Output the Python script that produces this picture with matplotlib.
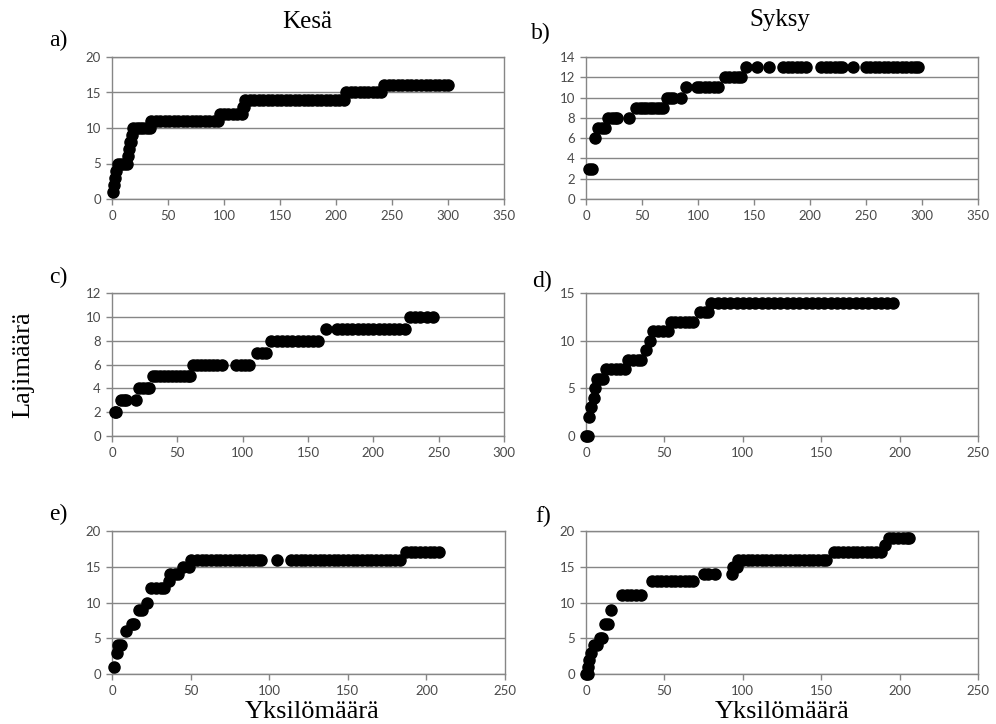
import numpy as np
import matplotlib.pyplot as plt

# species accumulation: (number of individuals, number of species)
# a) Kesa, upper row
pts_a = [(1, 1), (2, 2), (3, 3), (4, 4), (5, 5), (8, 5), (11, 5), (13, 5),
         (14, 6), (15, 7), (16, 8), (17, 8), (18, 9),
         (19, 10), (22, 10), (25, 10), (28, 10), (31, 10), (34, 10),
         (35, 11), (39, 11), (43, 11), (47, 11), (51, 11), (55, 11), (59, 11), (63, 11),
         (67, 11), (71, 11), (75, 11), (79, 11), (83, 11), (87, 11), (91, 11), (95, 11),
         (96, 12), (100, 12), (104, 12), (108, 12), (112, 12), (116, 12),
         (117, 13), (118, 13),
         (119, 14), (123, 14), (127, 14), (131, 14), (135, 14), (139, 14), (143, 14),
         (147, 14), (151, 14), (155, 14), (159, 14), (163, 14), (167, 14), (171, 14),
         (175, 14), (179, 14), (183, 14), (187, 14), (191, 14), (195, 14), (199, 14),
         (203, 14), (207, 14),
         (209, 15), (213, 15), (217, 15), (221, 15), (225, 15), (229, 15), (233, 15),
         (237, 15), (240, 15),
         (243, 16), (247, 16), (251, 16), (255, 16), (259, 16), (263, 16), (267, 16),
         (271, 16), (276, 16), (280, 16), (284, 16), (288, 16), (292, 16), (296, 16),
         (300, 16)]

# b) Syksy, upper row
pts_b = [(3, 3), (5, 3), (8, 6), (11, 7), (14, 7), (17, 7),
         (20, 8), (23, 8), (26, 8), (28, 8), (38, 8),
         (45, 9), (48, 9), (51, 9), (54, 9), (57, 9), (60, 9), (63, 9), (66, 9), (69, 9),
         (72, 10), (75, 10), (78, 10), (85, 10),
         (89, 11), (99, 11), (102, 11), (106, 11), (110, 11), (114, 11), (118, 11),
         (124, 12), (128, 12), (132, 12), (136, 12), (138, 12),
         (143, 13), (153, 13), (163, 13),
         (176, 13), (180, 13), (184, 13), (188, 13), (192, 13), (196, 13),
         (210, 13), (214, 13), (218, 13), (222, 13), (226, 13), (229, 13), (238, 13),
         (250, 13), (254, 13), (258, 13), (262, 13), (266, 13), (270, 13), (274, 13),
         (278, 13), (282, 13), (286, 13), (290, 13), (294, 13), (296, 13)]

# c) Kesa, middle row
pts_c = [(2, 2), (3, 2), (7, 3), (9, 3), (11, 3), (18, 3),
         (21, 4), (24, 4), (27, 4), (28, 4),
         (31, 5), (34, 5), (37, 5), (40, 5), (43, 5), (46, 5), (49, 5), (52, 5),
         (55, 5), (58, 5), (60, 5),
         (62, 6), (65, 6), (68, 6), (71, 6), (74, 6), (77, 6), (80, 6), (84, 6),
         (95, 6), (99, 6), (102, 6), (105, 6),
         (111, 7), (115, 7), (118, 7),
         (122, 8), (126, 8), (130, 8), (134, 8), (138, 8), (142, 8), (146, 8),
         (150, 8), (154, 8), (158, 8),
         (164, 9), (172, 9), (176, 9), (180, 9), (184, 9), (188, 9), (192, 9),
         (196, 9), (200, 9), (204, 9), (208, 9), (212, 9), (216, 9), (220, 9), (224, 9),
         (228, 10), (232, 10), (236, 10), (241, 10), (246, 10)]

# d) Syksy, middle row
pts_d = [(0, 0), (1, 0), (2, 2), (3, 3), (5, 4), (6, 5), (7, 6), (9, 6), (11, 6),
         (13, 7), (16, 7), (19, 7), (22, 7), (25, 7),
         (27, 8), (30, 8), (33, 8), (35, 8), (38, 9), (41, 10),
         (43, 11), (46, 11), (49, 11), (52, 11),
         (54, 12), (57, 12), (60, 12), (63, 12), (66, 12), (68, 12),
         (73, 13), (76, 13), (78, 13),
         (80, 14), (84, 14), (88, 14), (92, 14), (96, 14), (100, 14), (104, 14),
         (108, 14), (112, 14), (116, 14), (120, 14), (124, 14), (128, 14), (132, 14),
         (136, 14), (140, 14), (144, 14), (148, 14), (152, 14), (156, 14), (160, 14),
         (164, 14), (168, 14), (172, 14), (176, 14), (180, 14), (184, 14), (188, 14),
         (192, 14), (196, 14)]

# e) Kesa, lower row
pts_e = [(1, 1), (3, 3), (4, 4), (6, 4), (9, 6), (13, 7), (14, 7), (17, 9), (19, 9),
         (22, 10), (25, 12), (28, 12), (31, 12), (33, 12), (36, 13),
         (37, 14), (40, 14), (42, 14), (45, 15), (49, 15), (50, 16),
         (54, 16), (57, 16), (60, 16), (63, 16), (66, 16), (69, 16), (72, 16), (75, 16),
         (78, 16), (81, 16), (84, 16), (87, 16), (90, 16), (93, 16), (95, 16), (105, 16),
         (114, 16), (117, 16), (120, 16), (123, 16), (126, 16), (129, 16), (132, 16),
         (135, 16), (138, 16), (141, 16), (144, 16), (147, 16), (150, 16), (153, 16),
         (156, 16), (159, 16), (162, 16), (165, 16), (168, 16), (171, 16), (174, 16),
         (177, 16), (180, 16), (183, 16),
         (187, 17), (190, 17), (193, 17), (196, 17), (199, 17), (202, 17), (205, 17),
         (208, 17)]

# f) Syksy, lower row
pts_f = [(0, 0), (1, 0), (1, 1), (2, 2), (3, 3), (5, 4), (7, 4), (9, 5), (10, 5),
         (12, 7), (14, 7), (16, 9),
         (23, 11), (26, 11), (29, 11), (32, 11), (35, 11),
         (42, 13), (45, 13), (48, 13), (51, 13), (54, 13), (57, 13), (60, 13), (63, 13),
         (66, 13), (68, 13),
         (75, 14), (78, 14), (82, 14), (93, 14), (94, 15), (96, 15),
         (97, 16), (100, 16), (103, 16), (106, 16), (109, 16), (112, 16), (115, 16),
         (118, 16), (121, 16), (124, 16), (127, 16), (130, 16), (133, 16), (136, 16),
         (139, 16), (142, 16), (145, 16), (148, 16), (151, 16), (153, 16),
         (158, 17), (161, 17), (164, 17), (167, 17), (170, 17), (173, 17), (176, 17),
         (179, 17), (182, 17), (185, 17), (188, 17),
         (191, 18), (193, 19), (196, 19), (199, 19), (202, 19), (205, 19), (206, 19)]

col_titles = ['Kesä', 'Syksy']
panel_labels = ['a)', 'b)', 'c)', 'd)', 'e)', 'f)']
x_label = 'Yksilömäärä'
y_label = 'Lajimäärä'

# (points, x max, y max, y step, box in pixels: left, top, right, bottom)
panels = [
    (pts_a, 350, 20, 5, (112, 57, 504, 199)),
    (pts_b, 350, 14, 2, (586, 57, 978, 199)),
    (pts_c, 300, 12, 2, (112, 293, 504, 436)),
    (pts_d, 250, 15, 5, (586, 293, 978, 436)),
    (pts_e, 250, 20, 5, (112, 531, 505, 674)),
    (pts_f, 250, 20, 5, (586, 531, 978, 674)),
]

W, H = 996, 724
plt.rcParams['font.family'] = ['Lato', 'DejaVu Sans']
fig = plt.figure(figsize=(W / 100, H / 100), dpi=100)

grey = '#868686'
for pts, xmax, ymax, ystep, (l, t, r, b) in panels:
    ax = fig.add_axes([l / W, 1 - b / H, (r - l) / W, (b - t) / H])
    x = [p[0] for p in pts]
    y = [p[1] for p in pts]
    ax.plot(x, y, 'o', color='black', markersize=8, clip_on=False, zorder=3)
    ax.set_xlim(0, xmax)
    ax.set_ylim(0, ymax)
    ax.set_xticks(np.arange(0, xmax + 1, 50))
    ax.set_yticks(np.arange(0, ymax + 1, ystep))
    ax.yaxis.grid(True, color=grey, linewidth=1)
    ax.set_axisbelow(True)
    for s in ax.spines.values():
        s.set_color(grey)
        s.set_linewidth(1)
    ax.tick_params(direction='out', length=4, width=1, color=grey,
                   labelsize=9.5, labelcolor='#4a4a4a', pad=4)

serif = 'Liberation Serif'
fig.text(307 / W, 1 - 22 / H, col_titles[0], family=serif, fontsize=18, ha='center', va='center')
fig.text(780 / W, 1 - 20 / H, col_titles[1], family=serif, fontsize=18, ha='center', va='center')

label_pos = [(58, 40), (541, 33), (58, 277), (542, 281), (58, 514), (543, 516)]
for lab, (px, py) in zip(panel_labels, label_pos):
    fig.text(px / W, 1 - py / H, lab, family=serif, fontsize=17, ha='center', va='center')

fig.text(23 / W, 1 - 365 / H, y_label, family=serif, fontsize=19, rotation=90, ha='center', va='center')
fig.text(312 / W, 1 - 712 / H, x_label, family=serif, fontsize=19, ha='center', va='center')
fig.text(782 / W, 1 - 712 / H, x_label, family=serif, fontsize=19, ha='center', va='center')

fig.savefig('out.png', dpi=100)
